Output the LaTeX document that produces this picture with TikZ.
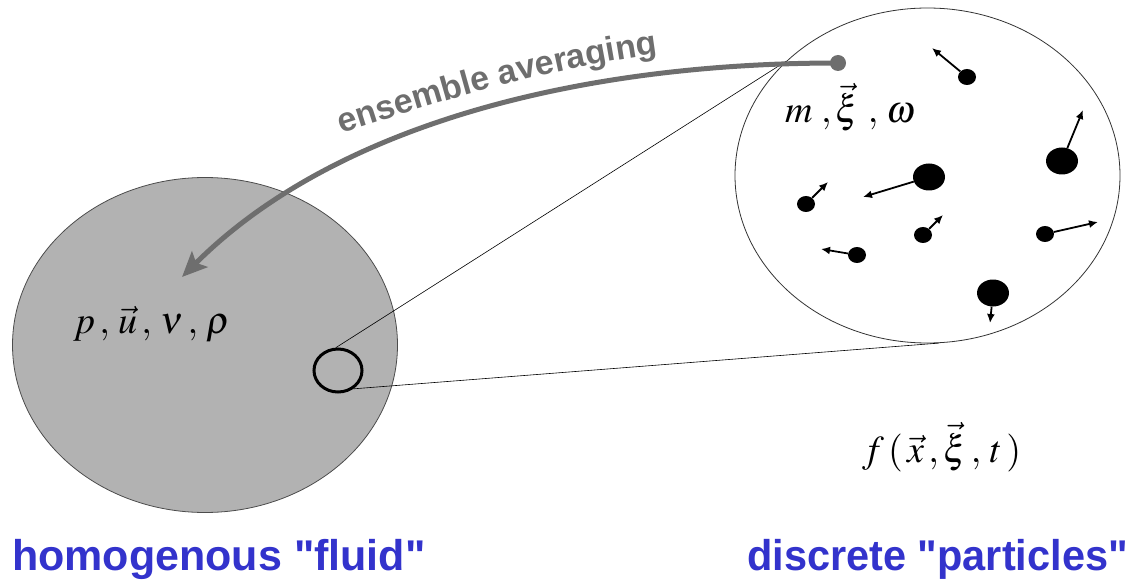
\documentclass[tikz,border=0pt]{standalone}
\usepackage{mathptmx}
\usepackage[no-math]{fontspec}
\newfontfamily\arialfont{Liberation Sans}
\usetikzlibrary{shapes.geometric,arrows.meta,decorations.text}
\definecolor{fluidgray}{HTML}{B2B2B2}
\definecolor{arrowgray}{HTML}{6E6E6E}
\definecolor{labelblue}{HTML}{3333CC}
\begin{document}
\begin{tikzpicture}[x=1pt,y=1pt,
  region/.style={ellipse, minimum width=385pt, minimum height=335pt, inner sep=0pt, line width=0.8pt},
  bigp/.style={ellipse, fill=black, minimum width=32pt, minimum height=27pt, inner sep=0pt},
  smallp/.style={ellipse, fill=black, minimum width=18pt, minimum height=16pt, inner sep=0pt},
  vel/.style={line width=1.8pt, -{Latex[length=9pt,width=8pt]}},
  lens/.style={line width=0.6pt, draw=black},
  mathlbl/.style={font=\fontsize{38}{42}\selectfont, inner sep=0pt, anchor=base west},
  caplbl/.style={font=\arialfont\bfseries\fontsize{43}{48}\selectfont, text=labelblue, inner sep=0pt, anchor=base west}]
\useasboundingbox (0,0) rectangle (1138,-580);

% fluid region
\node[region, fill=fluidgray, draw=black!70] (fluid) at (205,-345) {};
\node[ellipse, draw=black, line width=3pt, minimum width=48pt, minimum height=43pt, inner sep=0pt] (probe) at (338,-370.5) {};
\node[mathlbl] (fluidvars) at (73,-333) {$p\,,\,\vec{u}\,,\,\nu\,,\,\rho$};

% particle region
\node[region, draw=black!80] (zoom) at (927.5,-175.5) {};
\draw[lens] (probe.95) -- (zoom.141);
\draw[lens] (probe.-50) -- (zoom.-86);

\node[mathlbl] (partvars) at (785,-123) {$m\;,\vec{\xi}\;,\,\omega$};
\node[mathlbl] (distfun) at (862,-462) {$f\,(\,\vec{x}\,,\vec{\xi}\,,\,t\,)$};

% particles
\node[smallp] (p1) at (967,-77) {};
\node[bigp]   (p2) at (1062,-161) {};
\node[bigp]   (p3) at (929,-177) {};
\node[smallp] (p4) at (806,-204) {};
\node[smallp] (p5) at (923,-235) {};
\node[smallp] (p6) at (1045,-234) {};
\node[smallp] (p7) at (857,-255) {};
\node[bigp]   (p8) at (993,-293) {};
\coordinate (v1) at (932,-48);
\coordinate (v2) at (1083,-110);
\coordinate (v3) at (863,-197);
\coordinate (v4) at (828,-182);
\coordinate (v5) at (943,-215);
\coordinate (v6) at (1098,-222);
\coordinate (v7) at (821,-249);
\coordinate (v8) at (990,-323);
\foreach \i in {1,...,8} \draw[vel] (p\i) -- (v\i);

% ensemble averaging arrow
\node[circle, fill=arrowgray, minimum size=16pt, inner sep=0pt] (src) at (838,-63) {};
\coordinate (dst) at (182,-277);
\draw[arrowgray, line width=5pt, -{Stealth[length=25pt,width=22pt,inset=5pt]}]
  (src.center) .. controls (579,-63) and (334,-125) .. (dst);
\path[decorate, decoration={text along path, text align=center,
  text={|\arialfont\bfseries\fontsize{34}{34}\selectfont\color{arrowgray}|ensemble averaging}}]
  (336,-135) .. controls (450,-98) and (550,-68) .. (664,-53);

% captions
\node[caplbl] (fluidcap) at (12,-570) {homogenous "fluid"};
\node[caplbl] (partcap) at (747,-570) {\scalebox{0.965}[1]{discrete "particles"}};
\end{tikzpicture}
\end{document}
